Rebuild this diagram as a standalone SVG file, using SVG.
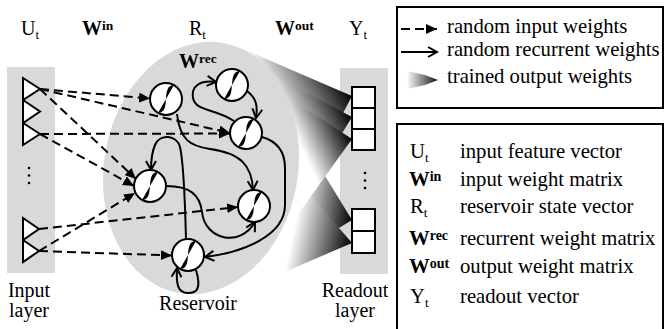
<svg xmlns="http://www.w3.org/2000/svg" width="665" height="329" viewBox="0 0 665 329" font-family="'Liberation Serif', 'Times New Roman', serif">
<defs>
<style>
text{font-family:"Liberation Serif","Times New Roman","DejaVu Serif",serif;fill:#000}
.lbl{font-size:20px}
.leg{font-size:20.7px}
.b{font-weight:bold}
.dash{fill:none;stroke:#000;stroke-width:2;stroke-dasharray:9,5;marker-end:url(#fa)}
.rec{fill:none;stroke:#000;stroke-width:2;marker-end:url(#oa)}
.node circle{fill:#fff;stroke:#000;stroke-width:2}
.node path{fill:none;stroke:#000;stroke-width:1.8}
.col{fill:#d9d9d9}
.tri{fill:#fff;stroke:#000;stroke-width:2}
.box{fill:#fff;stroke:#000;stroke-width:2}
.frame{fill:#fff;stroke:#000;stroke-width:2}
</style>
<marker id="fa" markerUnits="userSpaceOnUse" markerWidth="12" markerHeight="10" refX="11" refY="5" orient="auto"><path d="M0,0 L11,5 L0,10 Z" fill="#000"/></marker>
<marker id="oa" markerUnits="userSpaceOnUse" markerWidth="12" markerHeight="12" refX="10" refY="6" orient="auto"><path d="M1,1 L10,6 L1,11" fill="none" stroke="#000" stroke-width="2"/></marker>
<linearGradient id="g1" gradientUnits="userSpaceOnUse" x1="250" y1="154" x2="352" y2="96"><stop offset="0" stop-color="#fff"/><stop offset="0.4" stop-color="#fff"/><stop offset="1" stop-color="#000"/></linearGradient>
<linearGradient id="g2" gradientUnits="userSpaceOnUse" x1="257" y1="166" x2="352" y2="117"><stop offset="0" stop-color="#fff"/><stop offset="0.45" stop-color="#fff"/><stop offset="1" stop-color="#000"/></linearGradient>
<linearGradient id="g3" gradientUnits="userSpaceOnUse" x1="262" y1="180" x2="352" y2="139"><stop offset="0" stop-color="#fff"/><stop offset="0.5" stop-color="#fff"/><stop offset="1" stop-color="#000"/></linearGradient>
<linearGradient id="g4" gradientUnits="userSpaceOnUse" x1="275" y1="209" x2="352" y2="220"><stop offset="0" stop-color="#fff"/><stop offset="0.3" stop-color="#fff"/><stop offset="1" stop-color="#000"/></linearGradient>
<linearGradient id="g5" gradientUnits="userSpaceOnUse" x1="268" y1="225" x2="352" y2="243"><stop offset="0" stop-color="#fff"/><stop offset="0.3" stop-color="#fff"/><stop offset="1" stop-color="#000"/></linearGradient>
<linearGradient id="lg" x1="0" y1="0" x2="1" y2="0"><stop offset="0" stop-color="#fff"/><stop offset="1" stop-color="#111"/></linearGradient>
<path id="sig" d="M-8,14 C6,14 -6,-14 8,-14"/>
</defs>

<!-- header labels -->
<text class="lbl" x="21" y="35">U<tspan font-size="13" dy="4">t</tspan></text>
<text class="lbl b" x="82" y="35">W<tspan font-size="13.5" dy="-5">in</tspan></text>
<text class="lbl" x="189" y="35">R<tspan font-size="13" dy="4">t</tspan></text>
<text class="lbl b" x="275" y="35">W<tspan font-size="13.5" dy="-5">out</tspan></text>
<text class="lbl" x="349" y="35">Y<tspan font-size="13" dy="4">t</tspan></text>

<!-- input layer -->
<g id="input-layer">
<rect class="col" x="7" y="67" width="48" height="206"/>
<polygon class="tri" points="23,78 40,89 23,100"/>
<polygon class="tri" points="23,100 40,111.5 23,123"/>
<polygon class="tri" points="23,123 40,134 23,145"/>
<polygon class="tri" points="23,218 39,229 23,240"/>
<polygon class="tri" points="23,240 39,251 23,262"/>
<circle cx="29" cy="168" r="1.3"/><circle cx="29" cy="175.5" r="1.3"/><circle cx="29" cy="183" r="1.3"/>
<text class="lbl" x="29" y="297" text-anchor="middle">Input</text>
<text class="lbl" x="29" y="317" text-anchor="middle">layer</text>
</g>

<!-- readout layer background -->
<rect class="col" x="340" y="68" width="48" height="206"/>

<!-- trained output weights -->
<g id="output-weights">
<polygon points="352,220 300,135 250,283" fill="url(#g4)"/>
<polygon points="352,243 285,165 252,286" fill="url(#g5)"/>
<polygon points="352,96 236,46 265,262" fill="url(#g1)"/>
<polygon points="352,117 255,65 260,268" fill="url(#g2)"/>
<polygon points="352,139 270,85 255,274" fill="url(#g3)"/>
</g>

<!-- reservoir -->
<g id="reservoir">
<ellipse cx="201" cy="168" rx="97" ry="127" transform="rotate(10 201 168)" fill="#d9d9d9"/>
<text class="lbl b" x="179" y="68">W<tspan font-size="13.5" dy="-5">rec</tspan></text>
<text class="lbl" x="198" y="310" text-anchor="middle">Reservoir</text>
</g>

<!-- connectors -->
<g id="connectors">
<path class="dash" d="M40,89 L150,98.5"/>
<path class="dash" d="M40,89 L230,133"/>
<path class="dash" d="M40,89 L136,179"/>
<path class="dash" d="M40,134 L230,133.5"/>
<path class="dash" d="M40,134 L134,186"/>
<path class="dash" d="M39,229 L238,207"/>
<path class="dash" d="M39,251 L135,193"/>
<path class="dash" d="M39,251 L172,255.5"/>
<path class="rec" d="M177,114 C180,140 190,146 210,149 C240,153 252,165 253,190"/>
<path class="rec" d="M234,121 C215,108 196,112 193,98 C191,86 200,80 216,82"/>
<path class="rec" d="M247,91 C256,98 258,105 256,118"/>
<path class="rec" d="M262,137 C276,141 285,150 285,168 L285,205 C285,235 245,252 205,257"/>
<path class="rec" d="M186,239 C185,200 183,160 180,147 C177,135 160,133 155,145 C152,152 151,160 151,170"/>
<path class="rec" d="M166,186 C190,186 200,195 202,212 C205,240 240,248 255,222"/>
<path class="rec" d="M196,270 C202,290 196,293 188,293 C178,293 176,285 177,268"/>
</g>

<!-- reservoir nodes -->
<g id="n1" class="node" transform="translate(166,99)"><circle r="16"/><use href="#sig"/></g>
<g id="n2" class="node" transform="translate(232,85)"><circle r="16"/><use href="#sig"/></g>
<g id="n3" class="node" transform="translate(246,133)"><circle r="16"/><use href="#sig"/></g>
<g id="n4" class="node" transform="translate(150,186)"><circle r="16"/><use href="#sig"/></g>
<g id="n5" class="node" transform="translate(254,206)"><circle r="16"/><use href="#sig"/></g>
<g id="n6" class="node" transform="translate(188,255)"><circle r="16"/><use href="#sig"/></g>

<!-- readout layer -->
<g id="readout-layer">
<rect class="box" x="352" y="87" width="23" height="21"/>
<rect class="box" x="352" y="108" width="23" height="21"/>
<rect class="box" x="352" y="129" width="23" height="21"/>
<rect class="box" x="352" y="209" width="23" height="22"/>
<rect class="box" x="352" y="231" width="23" height="22"/>
<circle cx="365" cy="173" r="1.3"/><circle cx="365" cy="180.5" r="1.3"/><circle cx="365" cy="188" r="1.3"/>
<text class="lbl" x="355" y="297" text-anchor="middle">Readout</text>
<text class="lbl" x="355" y="317" text-anchor="middle">layer</text>
</g>

<!-- legend 1 -->
<g id="legend-arrows">
<rect class="frame" x="397" y="7" width="266" height="101"/>
<path class="dash" d="M401,29 L437,29"/>
<path class="rec" d="M401,52 L437,52"/>
<path d="M407,71 L425,75 L438,80 L425,85 L407,89 Z" fill="url(#lg)"/>
<text class="leg" x="447" y="33">random input weights</text>
<text class="leg" x="447" y="56">random recurrent weights</text>
<text class="leg" x="447" y="83">trained output weights</text>
</g>

<!-- legend 2 -->
<g id="legend-symbols">
<rect class="frame" x="397" y="124" width="266" height="215"/>
<text class="leg" x="410" y="158">U<tspan font-size="13" dy="4">t</tspan></text>
<text class="leg" x="460" y="158">input feature vector</text>
<text class="leg b" x="409" y="186">W<tspan font-size="14" dy="-5">in</tspan></text>
<text class="leg" x="460" y="186">input weight matrix</text>
<text class="leg" x="410" y="213">R<tspan font-size="13" dy="4">t</tspan></text>
<text class="leg" x="460" y="213">reservoir state vector</text>
<text class="leg b" x="409" y="245">W<tspan font-size="14" dy="-5">rec</tspan></text>
<text class="leg" x="460" y="245">recurrent weight matrix</text>
<text class="leg b" x="409" y="273">W<tspan font-size="14" dy="-5">out</tspan></text>
<text class="leg" x="460" y="273">output weight matrix</text>
<text class="leg" x="410" y="303">Y<tspan font-size="13" dy="4">t</tspan></text>
<text class="leg" x="460" y="303">readout vector</text>
</g>
</svg>
